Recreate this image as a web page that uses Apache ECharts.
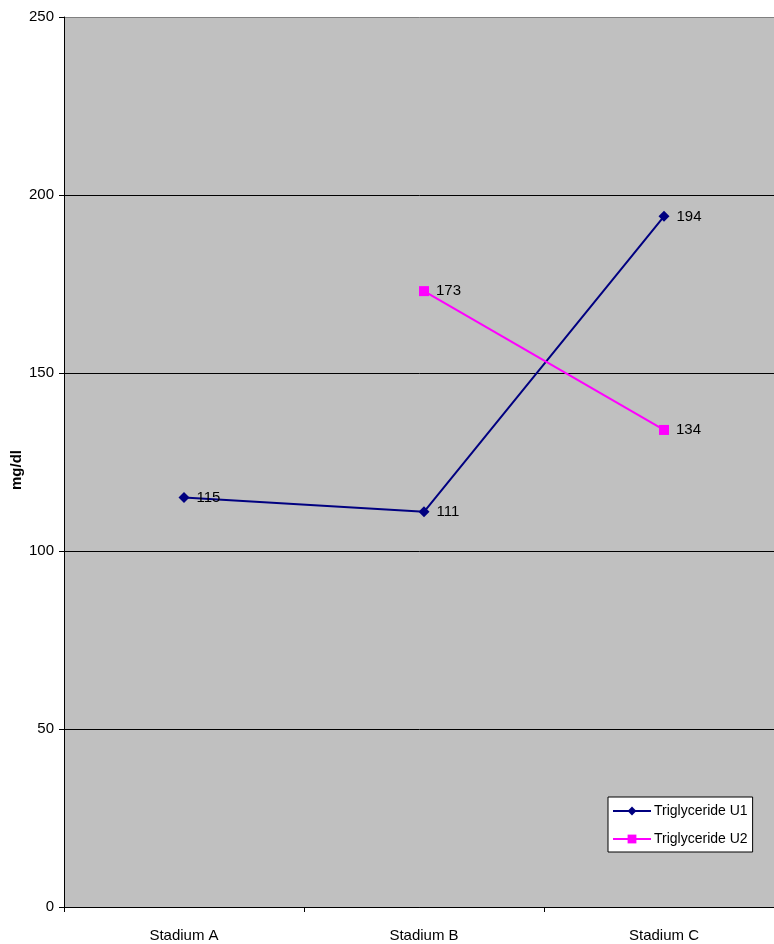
<!DOCTYPE html>
<html>
<head>
<meta charset="utf-8">
<script src="https://cdn.jsdelivr.net/npm/echarts@6/dist/echarts.min.js"></script>
<style>
  html, body { margin: 0; padding: 0; background: #fff; }
  #chart { width: 774px; height: 944px; }
</style>
</head>
<body>
<div id="chart"></div>
<script>
// Triglyceride values per stage (mg/dl)
const categories = ['Stadium A', 'Stadium B', 'Stadium C'];
const seriesNames = ['Triglyceride U1', 'Triglyceride U2'];
const u1Values = [115, 111, 194];
const u2Values = [null, 173, 134];
const yTicks = [0, 50, 100, 150, 200, 250];

const font = 'Liberation Sans, Arial, sans-serif';
const chart = echarts.init(document.getElementById('chart'));

const labelStyle = {
  show: true,
  position: 'right',
  distance: 7,
  color: '#000',
  fontFamily: font,
  fontSize: 15
};

chart.setOption({
  backgroundColor: '#fff',
  animation: false,
  grid: {
    left: 64, right: -10, top: 17, bottom: 37,
    containLabel: false,
    outerBoundsMode: 'none',
    show: true, backgroundColor: '#c0c0c0', borderWidth: 0
  },
  legend: {
    orient: 'vertical',
    left: 608, top: 797,
    width: 145,
    backgroundColor: '#fff',
    borderColor: '#000',
    borderWidth: 1,
    padding: [7, 5, 6, 4],
    itemGap: 14,
    itemWidth: 38,
    itemHeight: 11,
    textStyle: { color: '#000', fontFamily: font, fontSize: 14, padding: [0, 0, 0, -2] },
    data: seriesNames
  },
  xAxis: {
    type: 'category',
    data: categories,
    boundaryGap: true,
    axisLine: { lineStyle: { color: '#000', width: 1 } },
    axisTick: { show: true, length: 5, lineStyle: { color: '#000' } },
    axisLabel: { color: '#000', fontFamily: font, fontSize: 15, margin: 21 },
    splitLine: { show: false }
  },
  yAxis: {
    type: 'value',
    min: yTicks[0],
    max: yTicks[yTicks.length - 1],
    interval: 50,
    name: 'mg/dl',
    nameLocation: 'middle',
    nameMoveOverlap: false,
    nameGap: 40,
    nameRotate: 90,
    nameTextStyle: { color: '#000', fontFamily: font, fontSize: 15, fontWeight: 'bold', padding: [0, 0, 0, -16] },
    axisLine: { show: true, lineStyle: { color: '#000', width: 1 } },
    axisTick: { show: true, length: 5, lineStyle: { color: '#000' } },
    axisLabel: { color: '#000', fontFamily: font, fontSize: 15, margin: 10 },
    splitLine: {
      show: true,
      lineStyle: { color: ['#000', '#000', '#000', '#000', '#000', '#808080'], width: 1 }
    }
  },
  series: [
    {
      name: seriesNames[0],
      type: 'line',
      data: u1Values,
      color: '#000080',
      symbol: 'diamond',
      symbolSize: 11,
      lineStyle: { width: 2, color: '#000080' },
      itemStyle: { color: '#000080' },
      label: labelStyle
    },
    {
      name: seriesNames[1],
      type: 'line',
      data: u2Values,
      color: '#ff00ff',
      symbol: 'rect',
      symbolSize: 10,
      lineStyle: { width: 2, color: '#ff00ff' },
      itemStyle: { color: '#ff00ff' },
      label: labelStyle
    }
  ]
});
</script>
</body>
</html>
